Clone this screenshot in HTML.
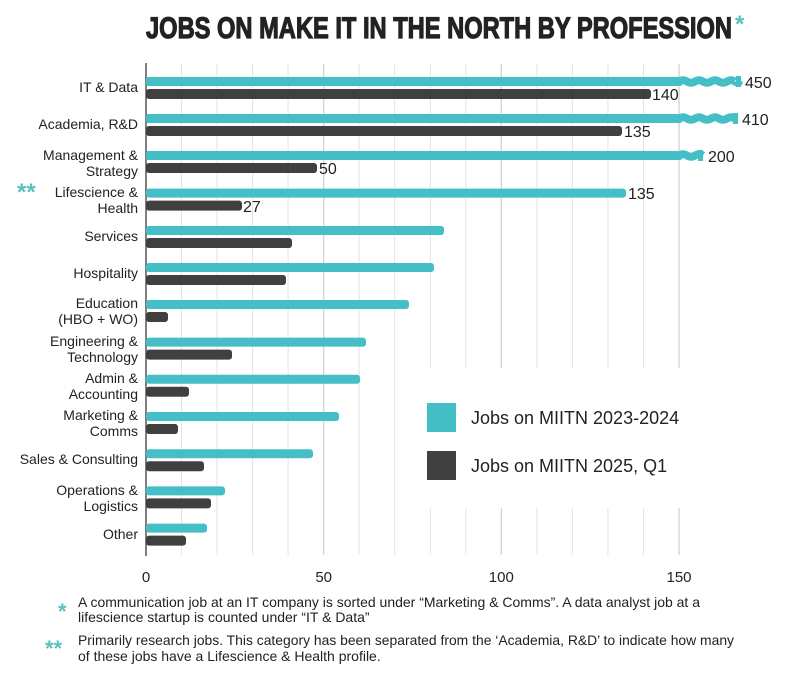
<!DOCTYPE html>
<html><head><meta charset="utf-8"><style>
html,body{margin:0;padding:0;background:#fff;}
svg{display:block;font-family:"Liberation Sans",sans-serif;}
</style></head><body>
<svg width="786" height="680" viewBox="0 0 786 680" xmlns="http://www.w3.org/2000/svg">
<rect width="786" height="680" fill="#fff"/>
<text x="146" y="38" font-size="30" font-weight="bold" fill="#222" stroke="#222" stroke-width="1.2" textLength="586" lengthAdjust="spacingAndGlyphs">JOBS ON MAKE IT IN THE NORTH BY PROFESSION</text>
<text x="735" y="32" font-size="24" font-weight="bold" fill="#5cc1c0">*</text>
<g stroke="#e3e3e3" stroke-width="1">
<line x1="181.5" y1="64" x2="181.5" y2="555"/><line x1="217" y1="64" x2="217" y2="555"/>
<line x1="252.6" y1="64" x2="252.6" y2="555"/><line x1="288.1" y1="64" x2="288.1" y2="555"/>
<line x1="359.2" y1="64" x2="359.2" y2="555"/><line x1="394.7" y1="64" x2="394.7" y2="555"/>
<line x1="430.3" y1="64" x2="430.3" y2="555"/><line x1="465.8" y1="64" x2="465.8" y2="555"/>
<line x1="536.9" y1="64" x2="536.9" y2="555"/><line x1="572.4" y1="64" x2="572.4" y2="555"/>
<line x1="607.9" y1="64" x2="607.9" y2="555"/><line x1="643.5" y1="64" x2="643.5" y2="555"/>
</g>
<g stroke="#cfcfcf" stroke-width="1.2">
<line x1="323.7" y1="64" x2="323.7" y2="555"/><line x1="501.3" y1="64" x2="501.3" y2="555"/><line x1="679" y1="64" x2="679" y2="555"/>
</g>
<rect x="422" y="368" width="364" height="140" fill="#fff"/>
<line x1="146" y1="63" x2="146" y2="556" stroke="#555" stroke-width="1.5"/>
<g fill="#45bfc6">
<rect x="146" y="77" width="536" height="9" rx="2"/>
<rect x="146" y="114" width="536" height="9" rx="2"/>
<rect x="146" y="151" width="536" height="9" rx="2"/>
<rect x="146" y="188.6" width="480" height="9" rx="3"/>
<rect x="146" y="226" width="298" height="9" rx="3"/>
<rect x="146" y="263" width="288" height="9" rx="3"/>
<rect x="146" y="300" width="263" height="9" rx="3"/>
<rect x="146" y="337.6" width="220" height="9" rx="3"/>
<rect x="146" y="374.8" width="214" height="9" rx="3"/>
<rect x="146" y="412" width="193" height="9" rx="3"/>
<rect x="146" y="449.2" width="167" height="9" rx="3"/>
<rect x="146" y="486.4" width="79" height="9" rx="3"/>
<rect x="146" y="523.6" width="61" height="9" rx="3"/>
</g>
<g fill="none" stroke="#45bfc6" stroke-width="8">
<path d="M679 81.5 q4 -2.5 8 0 t8 0 t8 0 t8 0 t8 0 t8 0 t8 0 t4 0"/>
<path d="M679 118.5 q4 -2.5 8 0 t8 0 t8 0 t8 0 t8 0 t8 0 t8 0"/>
<path d="M679 155.5 q4 -2.5 8 0 t8 0 t8 0"/>
</g>
<rect x="736" y="76" width="5" height="11" fill="#45bfc6"/>
<rect x="733" y="113" width="5" height="11" fill="#45bfc6"/>
<rect x="698" y="150" width="5" height="11" fill="#45bfc6"/>
<g fill="#404040">
<rect x="146" y="89" width="505" height="10" rx="3"/>
<rect x="146" y="126" width="476" height="10" rx="3"/>
<rect x="146" y="163" width="171" height="10" rx="3"/>
<rect x="146" y="200.6" width="96" height="10" rx="3"/>
<rect x="146" y="238" width="146" height="10" rx="3"/>
<rect x="146" y="275" width="140" height="10" rx="3"/>
<rect x="146" y="312" width="22" height="10" rx="3"/>
<rect x="146" y="349.6" width="86" height="10" rx="3"/>
<rect x="146" y="386.8" width="43" height="10" rx="3"/>
<rect x="146" y="424" width="32" height="10" rx="3"/>
<rect x="146" y="461.2" width="58" height="10" rx="3"/>
<rect x="146" y="498.4" width="65" height="10" rx="3"/>
<rect x="146" y="535.6" width="40" height="10" rx="3"/>
</g>
<g font-size="16" fill="#222">
<text x="745" y="88">450</text><text x="652" y="100">140</text>
<text x="742" y="125">410</text><text x="624" y="137">135</text>
<text x="708" y="162">200</text><text x="319" y="174">50</text>
<text x="628" y="199">135</text><text x="243" y="212">27</text>
</g>
<g font-size="14" fill="#222" text-anchor="end">
<text x="138" y="92">IT &amp; Data</text>
<text x="138" y="129">Academia, R&amp;D</text>
<text x="138" y="160">Management &amp;</text><text x="138" y="176">Strategy</text>
<text x="138" y="197">Lifescience &amp;</text><text x="138" y="213">Health</text>
<text x="138" y="241">Services</text>
<text x="138" y="278">Hospitality</text>
<text x="138" y="308">Education</text><text x="138" y="324">(HBO + WO)</text>
<text x="138" y="346">Engineering &amp;</text><text x="138" y="362">Technology</text>
<text x="138" y="383">Admin &amp;</text><text x="138" y="399">Accounting</text>
<text x="138" y="420">Marketing &amp;</text><text x="138" y="436">Comms</text>
<text x="138" y="464">Sales &amp; Consulting</text>
<text x="138" y="495">Operations &amp;</text><text x="138" y="511">Logistics</text>
<text x="138" y="539">Other</text>
</g>
<text x="17" y="200" font-size="24" font-weight="bold" fill="#5cc1c0">**</text>
<g font-size="15" fill="#222" text-anchor="middle">
<text x="146" y="582">0</text><text x="323.7" y="582">50</text><text x="501.3" y="582">100</text><text x="679" y="582">150</text>
</g>
<rect x="427" y="403" width="29" height="29" fill="#45bfc6"/>
<rect x="427" y="451" width="29" height="29" fill="#404040"/>
<g font-size="18" fill="#222">
<text x="471" y="424">Jobs on MIITN 2023-2024</text>
<text x="471" y="472">Jobs on MIITN 2025, Q1</text>
</g>
<g font-size="14" fill="#222">
<text x="78" y="607" textLength="622" lengthAdjust="spacingAndGlyphs">A communication job at an IT company is sorted under “Marketing &amp; Comms”. A data analyst job at a</text>
<text x="78" y="622">lifescience startup is counted under “IT &amp; Data”</text>
<text x="78" y="645" textLength="656" lengthAdjust="spacingAndGlyphs">Primarily research jobs. This category has been separated from the ‘Academia, R&amp;D’ to indicate how many</text>
<text x="78" y="661">of these jobs have a Lifescience &amp; Health profile.</text>
</g>
<g font-size="22" font-weight="bold" fill="#5cc1c0">
<text x="58" y="619">*</text>
<text x="45" y="656">**</text>
</g>
</svg>
</body></html>
